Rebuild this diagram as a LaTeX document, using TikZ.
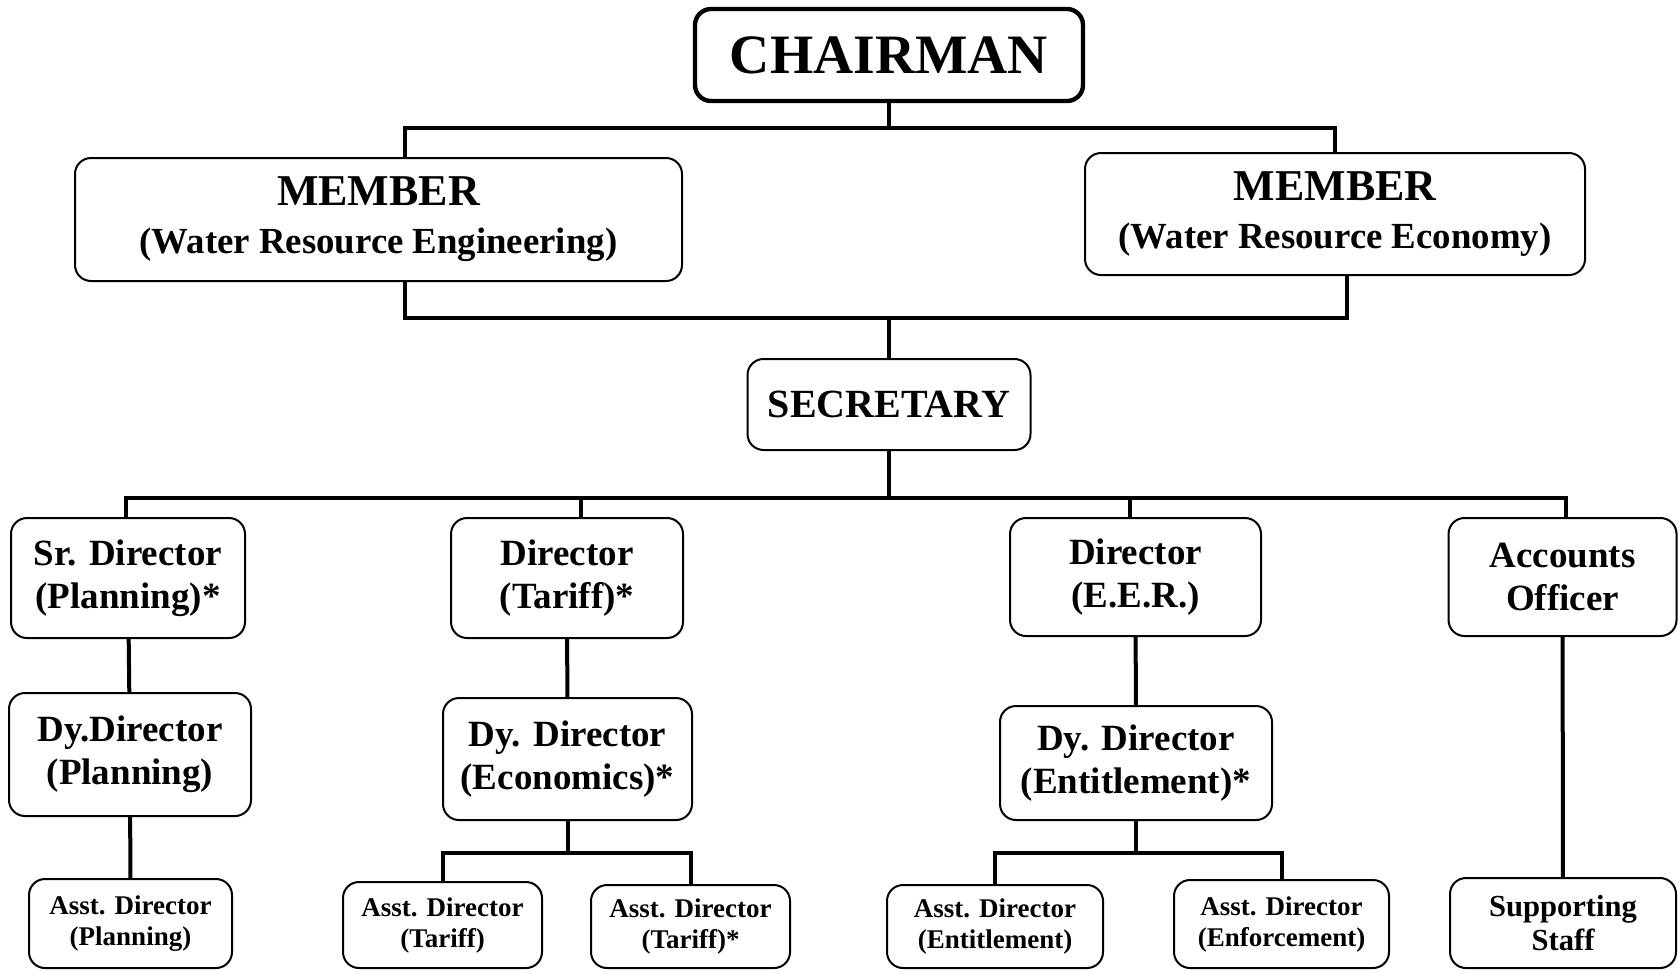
\documentclass[tikz,border=0pt]{standalone}
\usepackage{fontspec}
\setmainfont{Liberation Serif}
\begin{document}
\begin{tikzpicture}[x=0.5pt,y=-0.5pt,
  box/.style={draw,line width=1pt,rounded corners=8pt,align=center,inner sep=0pt,
    font=\bfseries\fontsize{18.5}{21.5}\selectfont},
  small/.style={font=\bfseries\fontsize{13.5}{15.5}\selectfont},
  link/.style={line width=2pt}]
\useasboundingbox (0,0) rectangle (1679,971);

\node[box,line width=2.2pt,minimum width=194pt,minimum height=46pt,
  font=\bfseries\fontsize{27.8}{30}\selectfont] (chair) at (889,55) {CHAIRMAN};
\node[box,minimum width=303.5pt,minimum height=61.5pt,font=\bfseries\fontsize{18.4}{24}\selectfont] (memL) at (378.5,219.5)
  {{\fontsize{22}{24}\selectfont MEMBER}\\(Water Resource Engineering)};
\node[box,minimum width=250pt,minimum height=61pt,font=\bfseries\fontsize{18.4}{24}\selectfont] (memR) at (1335,214)
  {{\fontsize{22}{24}\selectfont MEMBER}\\(Water Resource Economy)};
\node[box,minimum width=141.5pt,minimum height=45.5pt,
  font=\bfseries\fontsize{20}{22}\selectfont] (sec) at (889,404.5) {SECRETARY};

% directors
\node[box,minimum width=117pt,minimum height=60pt] (srdir) at (128,578) {Sr. Director\\(Planning)*};
\node[box,minimum width=116pt,minimum height=60pt] (dirtar) at (567,578) {Director\\(Tariff)*};
\node[box,minimum width=125.5pt,minimum height=59pt] (direer) at (1135.5,577) {Director\\(E.E.R.)};
\node[box,minimum width=114pt,minimum height=59pt] (acc) at (1562.5,577) {Accounts\\Officer};

% deputy directors
\node[box,minimum width=121pt,minimum height=61.5pt] (dyplan) at (130,754.5) {Dy.Director\\(Planning)};
\node[box,minimum width=124.5pt,minimum height=61pt] (dyecon) at (567.5,759) {Dy. Director\\(Economics)*};
\node[box,minimum width=136pt,minimum height=57pt] (dyent) at (1136,763) {Dy. Director\\(Entitlement)*};

% assistant directors
\node[box,small,minimum width=101.5pt,minimum height=44.5pt] (aplan) at (130.5,923.5) {Asst. Director\\(Planning)};
\node[box,small,minimum width=99.5pt,minimum height=43pt] (atar1) at (442.5,925) {Asst. Director\\(Tariff)};
\node[box,small,minimum width=99.5pt,minimum height=41.5pt] (atar2) at (690.5,926.5) {Asst. Director\\(Tariff)*};
\node[box,small,minimum width=108pt,minimum height=41.5pt] (aent) at (995,926.5) {Asst. Director\\(Entitlement)};
\node[box,small,minimum width=107.5pt,minimum height=44pt] (aenf) at (1281.5,924) {Asst. Director\\(Enforcement)};
\node[box,minimum width=113pt,minimum height=45pt,
  font=\bfseries\fontsize{15.3}{17}\selectfont] (staff) at (1563,923) {Supporting\\Staff};

% connectors
\coordinate (topbus) at (889,128);
\coordinate (midbus) at (889,318);
\coordinate (dirbus) at (889,498);
\draw[link] (chair) -- (topbus);
\draw[link] ([xshift=13.25pt]memL.north) |- (topbus) -| (memR.north);
\draw[link] ([xshift=13.25pt]memL.south) |- (midbus) -| ([xshift=6pt]memR.south);
\draw[link] (midbus) -- (sec);
\draw[link] (sec) -- (dirbus);
\draw[link] ([xshift=-1pt]srdir.north) |- (dirbus) -| ([xshift=1.5pt]acc.north);
\draw[link] ([xshift=7pt]dirtar.north) |- (dirbus);
\draw[link] ([xshift=-2.75pt]direer.north) |- (dirbus);

\foreach \a/\b in {srdir/dyplan,dirtar/dyecon,direer/dyent,acc/staff,dyplan/aplan}
  \draw[link] (\a) -- (\b);

\draw[link] (dyecon.south) -- ++(0,32) coordinate (econbus);
\draw[link] (atar1.north) |- (econbus) -| (atar2.north);
\draw[link] (dyent.south) -- ++(0,32) coordinate (entbus);
\draw[link] (aent.north) |- (entbus) -| (aenf.north);

\end{tikzpicture}
\end{document}
